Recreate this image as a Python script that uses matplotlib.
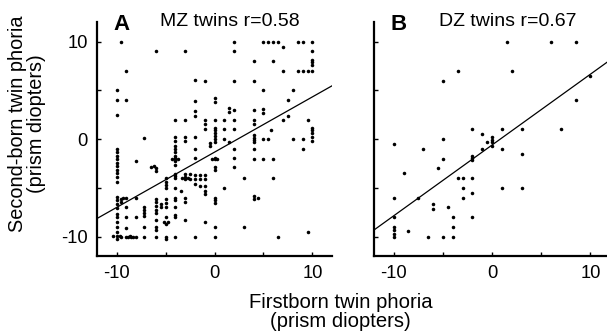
import matplotlib
matplotlib.use("Agg")
import matplotlib.pyplot as plt

plt.rcParams['font.family'] = ['Liberation Sans', 'DejaVu Sans']
plt.rcParams['axes.unicode_minus'] = False

# ---------------- MZ twins (panel A) ----------------
mz_x = (
    [-10] * 24 + [-10.35, -9.65]
    + [-9.5] * 4 + [-9.3]
    + [-9] * 7 + [-8.8, -8.6, -8.5, -8.3, -8]
    + [-8] * 3
    + [-7.2] * 7
    + [-6.5, -6.2, -6, -6]
    + [-6] * 10
    + [-5.5] * 2 + [-5.2, -5, -4.8]
    + [-5] * 10
    + [-4] * 21 + [-4.3, -3.7]
    + [-3] * 10 + [-3.3, -2.7, -3.4]
    + [-2.5] * 2
    + [-2] * 11
    + [-1.5] * 3
    + [-1] * 10
    + [-0.5] * 2
    + [0] * 18 + [-0.3, 0.3]
    + [1] * 4
    + [1.5] * 3
    + [2] * 9
    + [3] * 2
    + [4] * 13 + [4.4]
    + [5] * 6
    + [5.5] * 2 + [5.8]
    + [6] * 4
    + [6.5] * 2
    + [7] * 3
    + [7.5] * 2
    + [8] * 2
    + [8.5] * 2
    + [9] * 4
    + [9.5] * 3
    + [10] * 11
)
mz_y = (
    [5, 4, 2.5, -1, -1.35, -1.7, -2.05, -2.45, -2.8, -3.15, -3.5, -3.9, -4.4,
     -5.95, -6.3, -6.7, -7.1, -7.65, -8, -8.5, -9, -9.5, -9.95, -10.3] + [-9.95, -9.95]
    + [10, -6.2, -6.5, -10] + [-6.0]
    + [7, 4, -6, -7, -8, -9.1, -10] + [-10.1, -9.9, -10.1, -10, -10]
    + [-2.3, -6, -8]
    + [0.1, -7, -7.3, -7.6, -7.9, -9, -10]
    + [-2.9, -2.8, -3, -3.3]
    + [9, -6.2, -6.5, -6.9, -7.3, -7.6, -8.3, -9, -9.3, -10]
    + [-6.7, -7] + [-8.5, -8.7, -8.5]
    + [-4, -4.4, -4.7, -5, -6.2, -6.6, -7, -8, -10, -10.3]
    + [2, 0.2, -0.2, -0.7, -1, -1.35, -1.7, -1.9, -2.1, -2.3, -2.7, -3.6, -3.8, -4,
       -5, -6, -6.3, -7, -7.8, -8, -10] + [-2.1, -2.1]
    + [9, 2, 0.2, -0.2, -3.6, -3.9, -4.1, -6, -6.5, -8.3] + [-4, -4, -5.3]
    + [-3.6, -4.1]
    + [6.1, 3.9, 2.9, 2.4, 0.2, -1, -1.9, -3.7, -4.1, -4.6, -10]
    + [-3.7, -4.1, -4.8]
    + [5.9, 2, 1.5, 1, -3.7, -4.1, -4.8, -5.3, -5.6, -8.5]
    + [-0.4, -0.7]
    + [4.2, 3.8, 2, 1.15, 0.9, 0.6, 0.3, 0, -0.3, -1.9, -2.1, -2.9, -3.2,
       -6, -6.3, -6.6, -9, -10] + [-2, -2]
    + [2, 1, 0, -5]
    + [3.2, 2.75, -0.3]
    + [10, 9, 6, 3, 2, 1, -1.05, -1.9, -2.9]
    + [-4, -9]
    + [8, 6, 3, 2, 1.5, 0.4, 0.1, -0.1, -0.3, -1.05, -2.07, -5.8, -6.2] + [-6]
    + [10, 5, 3.1, 2.7, 0, -2.07]
    + [10, 0] + [0.9]
    + [10, 8, -2.07, -4]
    + [10, -10]
    + [9.4, 7, 2]
    + [4, 2.4]
    + [5, 0]
    + [10, 7]
    + [10, 7, 0, -1.05]
    + [7, 2, -9.5]
    + [10, 9, 8.1, 7.9, 7.6, 7, 1.15, 0.9, 0.6, 0.2, -0.2]
)

# ---------------- DZ twins (panel B) ----------------
dz_x = [1.5, 6, 8.5, -3.5, 2, -5, 10, 8.5,
        -2, -1, 0, 0, 0, -0.5, 1, 3, 7,
        -10, -7, -5, -1, 0, 1, 3,
        -5, -2, -2, -2, -5.5, -9,
        -3.5, -3, -2, -3, 1, 3,
        -10, -7.5, -3, -2, -6, -6, -4.5,
        -10, -4, -2, -10, -10, -10, -10, -8.5, -4,
        -6.5, -5, -4]
dz_y = [10, 10, 10, 7, 7, 6, 6.5, 4,
        1, 0.5, 0.2, -0.1, -0.35, -0.3, 1, 1, 1,
        -0.5, -1, 0, -1, -0.7, -1, -1.5,
        -2, -1.7, -1.9, -2.2, -3, -3.5,
        -4, -4, -4, -5, -5, -5,
        -6, -6, -6, -5.5, -6.7, -7.2, -7,
        -8, -8, -8, -9, -9.35, -9.7, -10, -9.4, -9,
        -10, -10, -10]

# regression lines (slope, intercept)
mz_fit = (0.567, -1.35)
dz_fit = (0.726, -0.62)

tick_vals = [-10, -5, 0, 5, 10]
tick_labels = ['-10', '', '0', '', '10']
lims = (-12, 12)

fig = plt.figure(figsize=(6.07, 3.36), dpi=100)
axA = fig.add_axes([97 / 607, 80 / 336, 235 / 607, 234 / 336])
axB = fig.add_axes([374 / 607, 80 / 336, 236 / 607, 234 / 336])

panels = [
    (axA, mz_x, mz_y, mz_fit, 'A', 'MZ twins r=0.58'),
    (axB, dz_x, dz_y, dz_fit, 'B', 'DZ twins r=0.67'),
]

for ax, xs, ys, fit, letter, title in panels:
    ax.scatter(xs, ys, s=6.5, c='black', linewidths=0, zorder=3)
    m, b = fit
    ax.plot(list(lims), [m * lims[0] + b, m * lims[1] + b], color='black', lw=0.9, zorder=2)
    ax.set_xlim(*lims)
    ax.set_ylim(*lims)
    for s in ('top', 'right'):
        ax.spines[s].set_visible(False)
    for s in ('left', 'bottom'):
        ax.spines[s].set_linewidth(1.6)
        ax.spines[s].set_color('black')
    ax.set_xticks(tick_vals)
    ax.set_xticklabels(tick_labels)
    ax.set_yticks(tick_vals)
    if ax is axA:
        ax.set_yticklabels(tick_labels)
    else:
        ax.set_yticklabels([''] * 5)
    ax.tick_params(direction='in', length=3, width=1, labelsize=13.2, pad=6.5,
                   colors='black')
    ax.text(0.068, 0.966, letter, transform=ax.transAxes, fontsize=16,
            fontweight='bold', ha='left', va='baseline')
    ax.text(0.566, 0.983, title, transform=ax.transAxes, fontsize=14,
            ha='center', va='baseline')
    ax.patch.set_visible(False)

fig.text(27.5 / 607, 1 - 124 / 336, 'Second-born twin phoria\n(prism diopters)',
         rotation=90, ha='center', va='center', multialignment='center',
         fontsize=14.3, linespacing=1.0)
fig.text(340.5 / 607, 1 - 312 / 336, 'Firstborn twin phoria\n(prism diopters)',
         ha='center', va='center', multialignment='center',
         fontsize=14.6, linespacing=1.0)

fig.savefig('out.png', dpi=100)
